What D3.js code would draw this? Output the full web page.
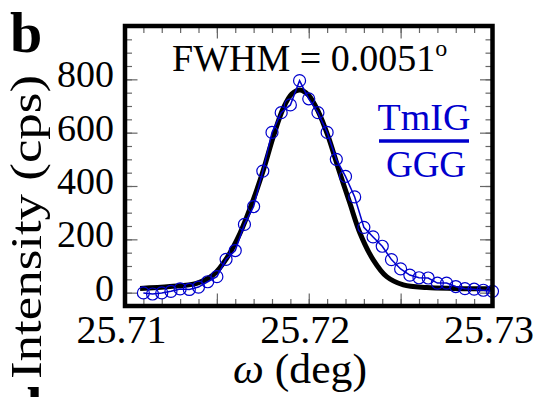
<!DOCTYPE html>
<html>
<head>
<meta charset="utf-8">
<script src="https://cdn.jsdelivr.net/npm/d3@7"></script>
<style>
  body { margin: 0; background: #fff; }
  svg text { font-family: "Liberation Serif", "Times New Roman", serif; fill: #000; }
</style>
</head>
<body>
<div class="chart"></div>
<script>
// measured rocking curve (omega, counts per second)
const omega = [25.7110, 25.7115, 25.7120, 25.7125, 25.7130, 25.7135, 25.7140, 25.7145, 25.7150, 25.7155,
               25.7160, 25.7165, 25.7170, 25.7175, 25.7180, 25.7185, 25.7190, 25.7195, 25.7200, 25.7205,
               25.7210, 25.7215, 25.7220, 25.7225, 25.7230, 25.7235, 25.7240, 25.7245, 25.7250, 25.7255,
               25.7260, 25.7265, 25.7270, 25.7275, 25.7280, 25.7285, 25.7290, 25.7295, 25.7300];
const intensity = [-1, -5, -1, 5, 14, 12, 21, 41, 60, 125,
                   158, 256, 323, 456, 601, 675, 704, 795, 727, 675,
                   601, 500, 436, 359, 245, 209, 174, 124, 89, 66,
                   56, 55, 36, 36, 23, 15, 13, 9, 5];

// fitted curve
const fitOmega = [25.71082, 25.71245, 25.71390, 25.71479, 25.71553, 25.71626, 25.71698, 25.71753,
                  25.71807, 25.71861, 25.71907, 25.71952, 25.71998, 25.72052, 25.72106, 25.72161,
                  25.72224, 25.72279, 25.72351, 25.72424, 25.72515, 25.72642, 25.72787, 25.73004];
const fitIntensity = [16, 23, 35, 66, 129, 223, 348, 460, 585, 691, 745, 760,
                      741, 679, 585, 466, 335, 223, 123, 60, 29, 19, 16, 15];

const xTicks = [25.71, 25.72, 25.73];
const yTicks = [0, 200, 400, 600, 800];

const width = 535, height = 397;
const frame = {left: 125, top: 26, right: 492.5, bottom: 306};
const blue = '#0000cd';
const tickColor = '#666';

const svg = d3.select('.chart').append('svg')
    .attr('width', width)
    .attr('height', height);

const x = d3.scaleLinear().domain([25.71, 25.73]).range([frame.left, frame.right]);
const y = d3.scaleLinear().domain([-50, 1000]).range([frame.bottom, frame.top]);

// minor / major tick positions
const xMinor = d3.range(0, 21).map(i => 25.71 + i * 0.001);
const xMajor = [25.715, 25.72, 25.725];
const yMinor = d3.range(-1, 21).map(i => i * 50);
const yMajor = yTicks;

function ticks(axis, vals, size, tx, ty) {
    let g = svg.append('g')
        .attr('transform', 'translate(' + tx + ',' + ty + ')')
        .call(axis.tickValues(vals).tickSize(-size).tickFormat(''));
    g.select('.domain').remove();
    g.selectAll('line').attr('stroke', tickColor).attr('stroke-width', 1.2);
    return g;
}

// inward ticks on all four sides
ticks(d3.axisBottom(x), xMinor, 7, 0, frame.bottom);
ticks(d3.axisBottom(x), xMajor, 12.5, 0, frame.bottom);
ticks(d3.axisTop(x), xMinor, 7, 0, frame.top);
ticks(d3.axisTop(x), xMajor, 12.5, 0, frame.top);
ticks(d3.axisLeft(y), yMinor, 7, frame.left, 0);
ticks(d3.axisLeft(y), yMajor, 12.5, frame.left, 0);
ticks(d3.axisRight(y), yMinor, 7, frame.right, 0);
ticks(d3.axisRight(y), yMajor, 12.5, frame.right, 0);

// tick labels
let xLab = svg.append('g')
    .attr('transform', 'translate(0,' + frame.bottom + ')')
    .call(d3.axisBottom(x).tickValues(xTicks).tickSize(0).tickPadding(8.5).tickFormat(d3.format('.2f')));
xLab.select('.domain').remove();
xLab.selectAll('text')
    .attr('font-size', 40)
    .attr('dx', -4)
    .style('font-family', '"Liberation Serif", serif');

let yLab = svg.append('g')
    .attr('transform', 'translate(' + frame.left + ',0)')
    .call(d3.axisLeft(y).tickValues(yTicks).tickSize(0).tickPadding(11));
yLab.select('.domain').remove();
yLab.selectAll('text')
    .attr('font-size', 38)
    .attr('dy', '0.2em')
    .style('font-family', '"Liberation Serif", serif');

// fitted line
svg.append('path')
    .datum(fitOmega.map((d, i) => [d, fitIntensity[i]]))
    .attr('fill', 'none')
    .attr('stroke', '#000')
    .attr('stroke-width', 5)
    .attr('stroke-linejoin', 'round')
    .attr('d', d3.line().x(d => x(d[0])).y(d => y(d[1])).curve(d3.curveCatmullRom.alpha(0.5)));

// data line + open circles
const pts = omega.map((d, i) => [d, intensity[i]]);
svg.append('path')
    .datum(pts)
    .attr('fill', 'none')
    .attr('stroke', blue)
    .attr('stroke-width', 1.5)
    .attr('d', d3.line().x(d => x(d[0])).y(d => y(d[1])));

svg.append('g').selectAll('circle')
    .data(pts)
    .enter().append('circle')
    .attr('cx', d => x(d[0]))
    .attr('cy', d => y(d[1]))
    .attr('r', 6)
    .attr('fill', 'none')
    .attr('stroke', blue)
    .attr('stroke-width', 1.2);

// frame
svg.append('rect')
    .attr('x', frame.left)
    .attr('y', frame.top)
    .attr('width', frame.right - frame.left)
    .attr('height', frame.bottom - frame.top)
    .attr('fill', 'none')
    .attr('stroke', '#000')
    .attr('stroke-width', 4.5);

// annotations
let fw = svg.append('text')
    .attr('x', 172)
    .attr('y', 71)
    .attr('font-size', 38);
fw.append('tspan').text('FWHM = 0.0051');
fw.append('tspan').attr('font-size', 24).attr('dy', -15).text('o');

svg.append('text')
    .attr('x', 424).attr('y', 130)
    .attr('text-anchor', 'middle')
    .attr('font-size', 38)
    .style('fill', blue)
    .text('TmIG');
svg.append('line')
    .attr('x1', 379).attr('x2', 469)
    .attr('y1', 141).attr('y2', 141)
    .attr('stroke', blue)
    .attr('stroke-width', 3.5);
svg.append('text')
    .attr('x', 426).attr('y', 177)
    .attr('text-anchor', 'middle')
    .attr('font-size', 37)
    .style('fill', blue)
    .text('GGG');

// axis titles
let xt = svg.append('text')
    .attr('x', 300).attr('y', 383)
    .attr('text-anchor', 'middle')
    .attr('font-size', 42)
    .attr('textLength', 134)
    .attr('lengthAdjust', 'spacingAndGlyphs');
xt.append('tspan').attr('font-style', 'italic').text('ω');
xt.append('tspan').text(' (deg)');

svg.append('text')
    .attr('transform', 'translate(41,227) rotate(-90)')
    .attr('text-anchor', 'middle')
    .attr('font-size', 45)
    .attr('textLength', 304)
    .attr('lengthAdjust', 'spacingAndGlyphs')
    .text('Intensity (cps)');

// panel letters
svg.append('text')
    .attr('x', 10).attr('y', 52)
    .attr('font-size', 58)
    .attr('font-weight', 'bold')
    .text('b');
svg.append('text')
    .attr('x', 10).attr('y', 427)
    .attr('font-size', 58)
    .attr('font-weight', 'bold')
    .text('d');
</script>
</body>
</html>
